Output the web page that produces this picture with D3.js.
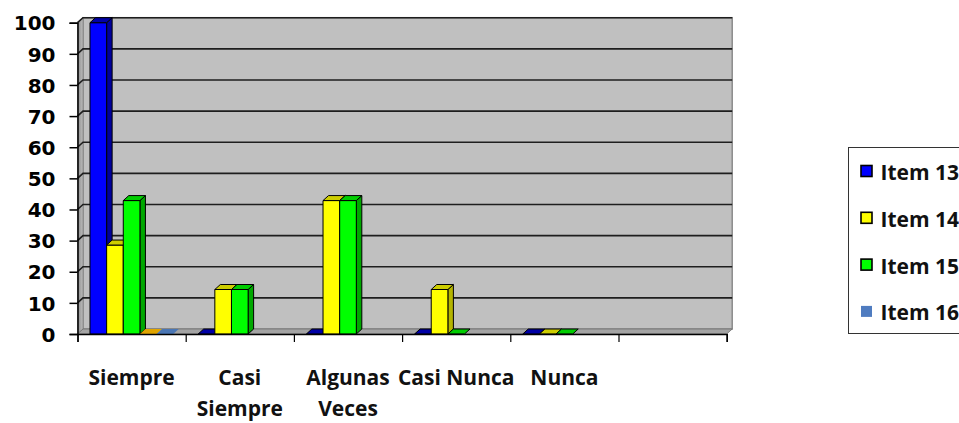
<!DOCTYPE html>
<html>
<head>
<meta charset="utf-8">
<script src="https://cdn.jsdelivr.net/npm/d3@7"></script>
<style>
  body { margin: 0; background: #fff; }
  svg { display: block; }
</style>
</head>
<body>
<svg id="chart" width="959" height="423"></svg>
<script>
// ---- data ----
const categories = ["Siempre", "Casi Siempre", "Algunas Veces", "Casi Nunca", "Nunca", ""];
const categoryLines = [["Siempre"], ["Casi", "Siempre"], ["Algunas", "Veces"], ["Casi Nunca"], ["Nunca"], []];
const item13 = [100, 0, 0, 0, 0, null];
const item14 = [28.57, 14.29, 42.86, 14.29, 0, null];
const item15 = [42.86, 14.29, 42.86, 0, 0, null];
const serie5 = [0, null, null, null, null, null];
const item16 = [0, null, null, null, null, null];
const seriesNames = ["Item 13", "Item 14", "Item 15", "Serie 5", "Item 16"];
const seriesValues = [item13, item14, item15, serie5, item16];
const legendNames = ["Item 13", "Item 14", "Item 15", "Item 16"];
const yTicks = [0, 10, 20, 30, 40, 50, 60, 70, 80, 90, 100];

// ---- look ----
const faces = {
  "Item 13": { front: "#0000FF", side: "#00009C", top: "#0000A6", stroke: "#000" },
  "Item 14": { front: "#FFFF00", side: "#B4B400", top: "#CDCD00", stroke: "#000" },
  "Item 15": { front: "#00FF00", side: "#00A800", top: "#00CC00", stroke: "#000" },
  "Serie 5": { front: "#F5B800", side: "#B88A00", top: "#E0A400", stroke: "none" },
  "Item 16": { front: "#4F81BD", side: "#3A6090", top: "#4A76B4", stroke: "none" }
};
const legendSwatch = {
  "Item 13": { fill: "#0000FF", stroke: "#000" },
  "Item 14": { fill: "#FFFF00", stroke: "#000" },
  "Item 15": { fill: "#00FF00", stroke: "#000" },
  "Item 16": { fill: "#4F7CC0", stroke: "none" }
};

const plotLeft = 77.5, plotRight = 726.7;
const depthX = 5.5, depthY = -5;
const textFont = "'Open Sans', sans-serif";

const svg = d3.select("#chart");

const x = d3.scaleBand().domain(categories).range([plotLeft, plotRight]).padding(0);
const xs = d3.scaleBand().domain(seriesNames).range([0, x.bandwidth()])
  .paddingInner(0).paddingOuter(0.75);
const y = d3.scaleLinear().domain([0, 100]).range([334, 22.7]);

const pts = arr => arr.map(p => p.join(",")).join(" ");

const defs = svg.append("defs");
const sideGrad = defs.append("linearGradient").attr("id", "sidewall")
  .attr("x1", 0).attr("x2", 1).attr("y1", 0).attr("y2", 0);
sideGrad.append("stop").attr("offset", 0).attr("stop-color", "#8c8c8c");
sideGrad.append("stop").attr("offset", 1).attr("stop-color", "#bdbdbd");

// back wall
const wallTop = y(100) + depthY, wallBottom = y(0) + depthY;
svg.append("rect")
  .attr("x", plotLeft + depthX).attr("y", wallTop)
  .attr("width", plotRight - plotLeft).attr("height", wallBottom - wallTop)
  .attr("fill", "#C0C0C0").attr("stroke", "#8a8a8a").attr("stroke-width", 1.5);

// side wall
svg.append("polygon")
  .attr("points", pts([[plotLeft, y(100)], [plotLeft + depthX, wallTop],
    [plotLeft + depthX, wallBottom], [plotLeft, y(0)]]))
  .attr("fill", "url(#sidewall)").attr("stroke", "#808080").attr("stroke-width", 0.8);

// floor
svg.append("polygon")
  .attr("points", pts([[plotLeft, y(0)], [plotLeft + depthX, wallBottom],
    [plotRight + depthX, wallBottom], [plotRight, y(0)]]))
  .attr("fill", "#a4a4a4").attr("stroke", "#707070").attr("stroke-width", 0.8);

// gridlines on side wall and back wall
svg.append("g").selectAll("polyline")
  .data(yTicks.filter(v => v > 0))
  .join("polyline")
  .attr("points", v => pts([[plotLeft, y(v)], [plotLeft + depthX, y(v) + depthY],
    [plotRight + depthX, y(v) + depthY]]))
  .attr("fill", "none").attr("stroke", "#1e1e1e").attr("stroke-width", 1.6);

// bars, drawn left to right so each front face covers the previous side face
const bars = svg.append("g");
categories.forEach((cat, ci) => {
  seriesNames.forEach((name, si) => {
    const v = seriesValues[si][ci];
    if (v === null || v === undefined) return;
    const f = faces[name];
    const x0 = x(cat) + xs(name), x1 = x0 + xs.bandwidth();
    const yt = y(v), yb = y(0);
    const g = bars.append("g")
      .attr("stroke", f.stroke).attr("stroke-width", f.stroke === "none" ? 0 : 1)
      .attr("stroke-linejoin", "round");
    if (v > 0) {
      g.append("polygon")
        .attr("points", pts([[x1, yt], [x1 + depthX, yt + depthY], [x1 + depthX, yb + depthY], [x1, yb]]))
        .attr("fill", f.side);
      g.append("rect")
        .attr("x", x0).attr("y", yt).attr("width", x1 - x0).attr("height", yb - yt)
        .attr("fill", f.front);
    }
    g.append("polygon")
      .attr("points", pts([[x0, yt], [x1, yt], [x1 + depthX, yt + depthY], [x0 + depthX, yt + depthY]]))
      .attr("fill", f.top);
  });
});

// value axis
const yAxis = svg.append("g")
  .attr("transform", `translate(${plotLeft},0)`)
  .call(d3.axisLeft(y).tickValues(yTicks).tickSize(8).tickPadding(14).tickFormat(d3.format("d")));
yAxis.select(".domain").attr("stroke", "#000").attr("stroke-width", 1.5);
yAxis.selectAll(".tick line").attr("stroke", "#000").attr("stroke-width", 1.5);
yAxis.selectAll(".tick text")
  .attr("font-family", "'DejaVu Sans', sans-serif").attr("font-weight", "bold")
  .attr("font-size", 20).attr("fill", "#000").attr("dy", "0.36em");

// category axis: boundary ticks
const xEdge = d3.scaleLinear().domain([0, categories.length]).range([plotLeft, plotRight]);
const xAxis = svg.append("g")
  .attr("transform", `translate(0,${y(0)})`)
  .call(d3.axisBottom(xEdge).tickValues(d3.range(categories.length + 1)).tickSize(8).tickFormat(""));
xAxis.select(".domain").attr("stroke", "#000").attr("stroke-width", 1.5);
xAxis.selectAll(".tick line").attr("stroke", "#000").attr("stroke-width", 1.2);

// category labels
const labels = svg.append("g")
  .attr("font-family", textFont).attr("font-weight", "bold")
  .attr("font-size", 21).attr("fill", "#111").attr("text-anchor", "middle");
categories.forEach((cat, ci) => {
  const cx = x(cat) + x.bandwidth() / 2;
  const t = labels.append("text").attr("x", cx).attr("y", 385);
  categoryLines[ci].forEach((line, li) => {
    t.append("tspan").attr("x", cx).attr("dy", li === 0 ? 0 : 31).text(line);
  });
});

// legend
const legend = svg.append("g");
legend.append("rect")
  .attr("x", 848.5).attr("y", 147.5).attr("width", 140).attr("height", 186)
  .attr("fill", "#fff").attr("stroke", "#333").attr("stroke-width", 1);
legendNames.forEach((name, i) => {
  const cy = 171 + i * 46.8;
  const s = legendSwatch[name];
  legend.append("rect")
    .attr("x", 861).attr("y", cy - 5.5).attr("width", 11).attr("height", 11)
    .attr("fill", s.fill).attr("stroke", s.stroke).attr("stroke-width", 1.6);
  legend.append("text")
    .attr("x", 880.5).attr("y", cy + 9)
    .attr("font-family", textFont).attr("font-weight", "bold")
    .attr("font-size", 21).attr("fill", "#111").text(name);
});
</script>
</body>
</html>
